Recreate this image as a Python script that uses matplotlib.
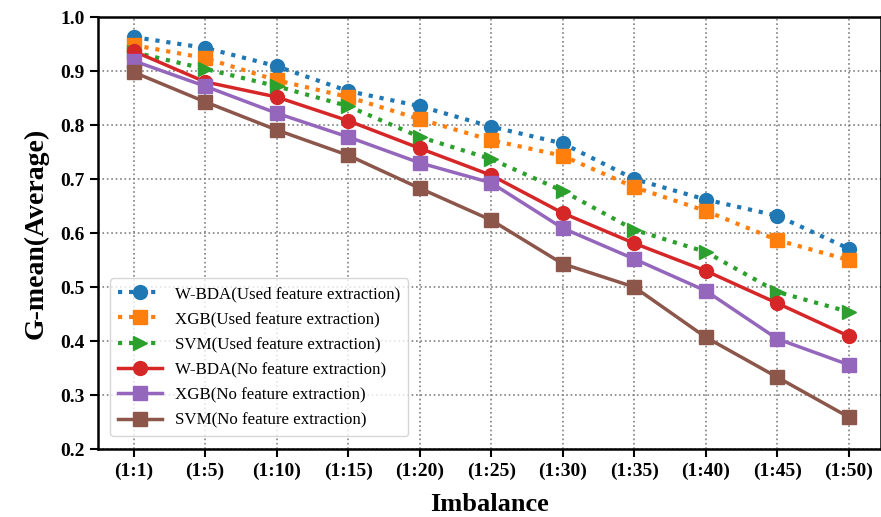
import matplotlib.pyplot as plt
import numpy as np

plt.rcParams['font.family'] = ['Liberation Serif', 'DejaVu Serif']

categories = ['(1:1)', '(1:5)', '(1:10)', '(1:15)', '(1:20)', '(1:25)',
              '(1:30)', '(1:35)', '(1:40)', '(1:45)', '(1:50)']
wbda_used = [0.963, 0.943, 0.909, 0.863, 0.835, 0.797, 0.766, 0.700, 0.662, 0.632, 0.571]
xgb_used = [0.948, 0.924, 0.883, 0.852, 0.811, 0.772, 0.743, 0.685, 0.641, 0.587, 0.550]
svm_used = [0.935, 0.904, 0.872, 0.835, 0.778, 0.737, 0.678, 0.606, 0.565, 0.491, 0.454]
wbda_no = [0.937, 0.880, 0.852, 0.808, 0.757, 0.707, 0.637, 0.581, 0.530, 0.470, 0.409]
xgb_no = [0.919, 0.872, 0.822, 0.778, 0.730, 0.693, 0.609, 0.552, 0.493, 0.404, 0.356]
svm_no = [0.898, 0.843, 0.791, 0.744, 0.683, 0.624, 0.543, 0.500, 0.407, 0.333, 0.259]

x = np.arange(len(categories))

fig = plt.figure(figsize=(8.81, 5.17), dpi=100)
ax = fig.add_axes([0.111, 0.1315, 0.889, 0.8355])

ax.plot(x, wbda_used, ':', color='#1f77b4', marker='o', ms=10, lw=3, label='W-BDA(Used feature extraction)')
ax.plot(x, xgb_used, ':', color='#ff7f0e', marker='s', ms=10, lw=3, label='XGB(Used feature extraction)')
ax.plot(x, svm_used, ':', color='#2ca02c', marker='>', ms=10, lw=3, label='SVM(Used feature extraction)')
ax.plot(x, wbda_no, '-', color='#d62728', marker='o', ms=10, lw=2.5, label='W-BDA(No feature extraction)')
ax.plot(x, xgb_no, '-', color='#9467bd', marker='s', ms=10, lw=2.5, label='XGB(No feature extraction)')
ax.plot(x, svm_no, '-', color='#8c564b', marker='s', ms=10, lw=2.5, label='SVM(No feature extraction)')

ax.set_xlim(-0.5, 10.45)
ax.set_ylim(0.2, 1.0)
ax.set_xticks(x)
ax.set_xticklabels(categories)
ax.set_yticks(np.arange(0.2, 1.01, 0.1))
ax.set_yticklabels(['%.1f' % v for v in np.arange(0.2, 1.01, 0.1)])
for lab in ax.get_xticklabels() + ax.get_yticklabels():
    lab.set_fontweight('bold')
    lab.set_fontsize(14)
ax.tick_params(direction='out', length=6, width=1.5)
ax.grid(True, linestyle=':', color='gray', lw=1.2)
for s in ax.spines.values():
    s.set_linewidth(1.8)

ax.set_xlabel('Imbalance', fontsize=19, fontweight='bold', labelpad=10)
ax.set_ylabel('G-mean(Average)', fontsize=20, fontweight='bold', labelpad=8)
ax.legend(loc='lower left', fontsize=12.2, framealpha=0.8, borderpad=0.45,
          labelspacing=0.55, handlelength=2.6, bbox_to_anchor=(0.005, 0.01))

plt.savefig('out.png', dpi=100)
